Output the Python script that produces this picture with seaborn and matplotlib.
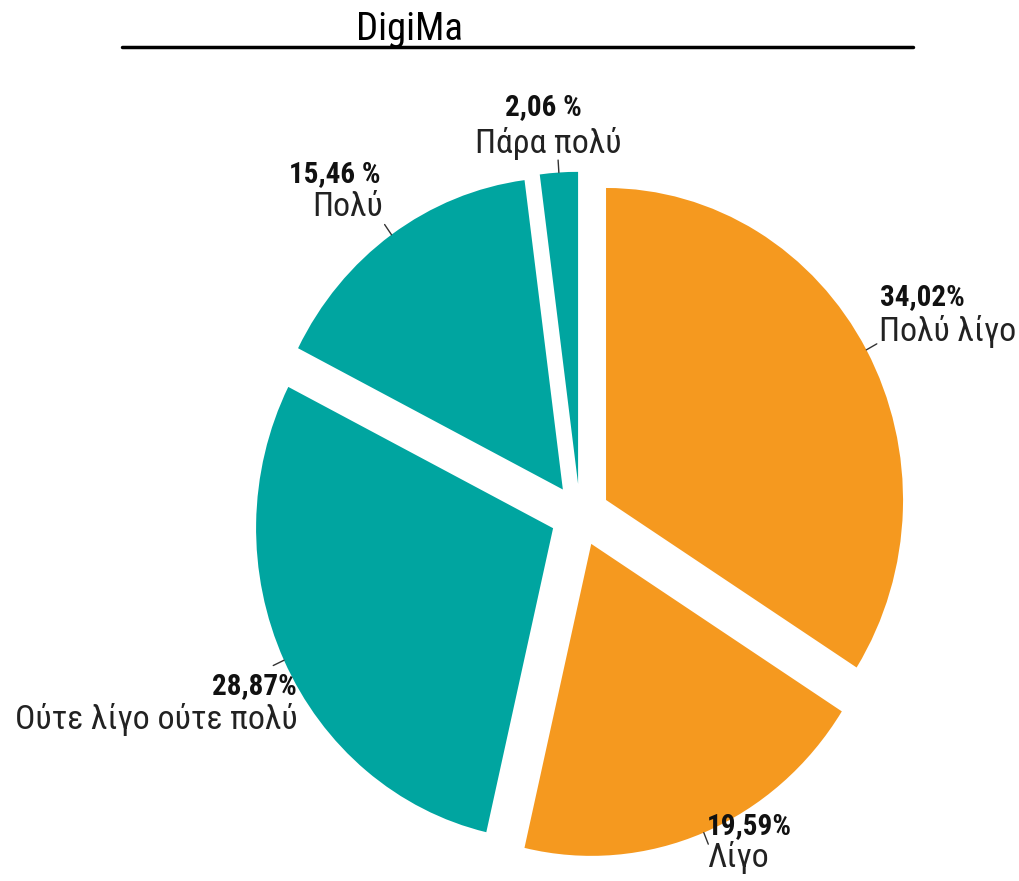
import numpy as np
import matplotlib
matplotlib.use("Agg")
import matplotlib.pyplot as plt
import seaborn as sns
from matplotlib.lines import Line2D
from matplotlib import font_manager

# ============================================================
# Data
# ============================================================

labels = ["Πολύ λίγο", "Λίγο", "Ούτε λίγο ούτε πολύ", "Πολύ", "Πάρα πολύ"]
values = [34.02, 19.59, 28.87, 15.46, 2.06]
pct_text = ["34,02%", "19,59%", "28,87%", "15,46 %", "2,06 %"]
colors = ["#F5991F", "#F5991F", "#00A5A0", "#00A5A0", "#00A5A0"]

# ============================================================
# Style
# ============================================================

sns.set_theme(style="white")
names = {f.name for f in font_manager.fontManager.ttflist}
fam = [n for n in ["Liberation Sans Narrow", "Roboto Condensed", "Liberation Sans", "DejaVu Sans"] if n in names]
plt.rcParams["font.family"] = fam

W, H = 1020, 881
fig = plt.figure(figsize=(W / 100, H / 100), dpi=100)
ax = fig.add_axes([0, 0, 1, 1])

# pie
wedges, _ = ax.pie(
    values,
    colors=colors,
    startangle=90,
    counterclock=False,
    explode=[0.1] * len(values),
    wedgeprops=dict(linewidth=0),
)

# slightly taller than wide, centred like the original
rx, ry = 297, 312
cx, cy = 580, 515
ax.set_aspect("auto")
ax.set_xlim(-cx / rx, (W - cx) / rx)
ax.set_ylim(-(H - cy) / ry, cy / ry)
ax.axis("off")

# leader ticks
for w in wedges:
    ang = np.deg2rad((w.theta1 + w.theta2) / 2)
    x0, y0 = w.center
    r1, r2 = 1.0, 1.04
    ax.plot([x0 + r1 * np.cos(ang), x0 + r2 * np.cos(ang)],
            [y0 + r1 * np.sin(ang), y0 + r2 * np.sin(ang)],
            color="#333333", lw=1)

# label placement (pixel positions of text anchors)
lab_pos = [
    (880, 297, 1016, 332, "left"),
    (707, 826, 707, 858, "left"),
    (297, 686, 298, 720, "right"),
    (381, 174, 383, 207, "right"),
    (543, 107, 548, 143, "center"),
]

renderer = fig.canvas.get_renderer()


def fit_size(txt, base, target, **kw):
    # scale a font size so the text spans the width seen in the original
    t = fig.text(0, 0, txt, fontsize=base, **kw)
    wpx = t.get_window_extent(renderer).width
    t.remove()
    return base * target / wpx


lab_size = min(26, fit_size(labels[2], 26, 283))
pct_size = fit_size(pct_text[0], 18, 85, fontweight="bold")

for i, ((px, py, lx, ly, ha), p, lab) in enumerate(zip(lab_pos, pct_text, labels)):
    fig.text(px / W, 1 - py / H, p, ha=ha, va="center",
             fontsize=pct_size, fontweight="bold", color="#111111")
    fig.text(lx / W, 1 - ly / H, lab, ha="right" if i == 0 else ha, va="center",
             fontsize=lab_size, color="#222222")

# title with rule
title_size = fit_size("DigiMa", 22, 107)
fig.text(409 / W, 1 - 29 / H, "DigiMa", ha="center", va="center",
         fontsize=title_size, color="black")
fig.add_artist(Line2D([122 / W, 913 / W], [1 - 47 / H, 1 - 47 / H],
                      color="black", lw=2.5))

fig.savefig("out.png", dpi=100, facecolor="white")
